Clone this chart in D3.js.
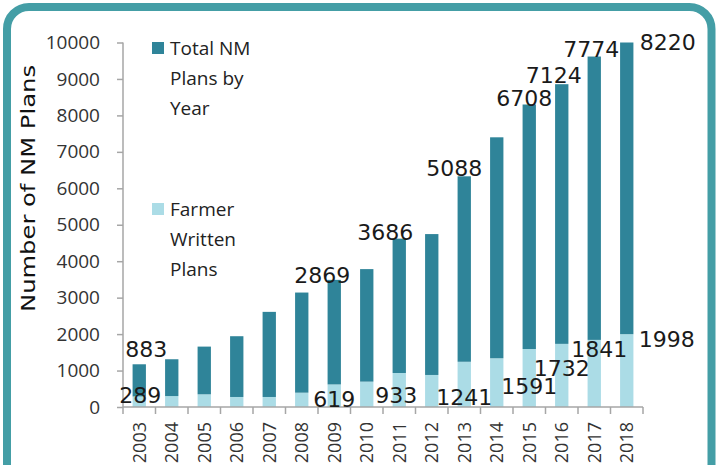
<!DOCTYPE html>
<html lang="en">
<head>
    <meta charset="UTF-8">
    <title>NM Plans by Year</title>
    <script src="https://cdnjs.cloudflare.com/ajax/libs/d3/7.8.5/d3.min.js"></script>
    <style>
        body {
            margin: 0;
            overflow: hidden;
            background: #fff;
        }
    </style>
</head>
<body>
    <script>
        // Data
        const years = ['2003', '2004', '2005', '2006', '2007', '2008', '2009', '2010',
                       '2011', '2012', '2013', '2014', '2015', '2016', '2017', '2018'];
        const farmerPlans = [289, 300, 348, 275, 275, 393, 619, 696, 933, 879, 1241, 1337, 1591, 1732, 1841, 1998];
        const otherPlans = [883, 1010, 1309, 1667, 2335, 2747, 2869, 3087, 3686, 3865, 5088, 6062, 6708, 7124, 7774, 8220];
        const labelledYears = ['2003', '2009', '2011', '2013', '2015', '2016', '2017', '2018'];
        const yTicks = [0, 1000, 2000, 3000, 4000, 5000, 6000, 7000, 8000, 9000, 10000];
        const legendTotal = ['Total NM', 'Plans by', 'Year'];
        const legendFarmer = ['Farmer', 'Written', 'Plans'];

        // hand placed label nudges (dx, dy in px) like the original
        const topNudge = {
            '2003': [7, -7], '2009': [-12, 3], '2011': [-14, 1], '2013': [-10, 0],
            '2015': [-5, 1], '2016': [-8, -1], '2017': [-3, 0], '2018': [41, 7]
        };
        const baseNudge = {
            '2003': [1, -4], '2009': [0, 0], '2011': [-3, -4], '2013': [0, -2],
            '2015': [0, -13], '2016': [0, -31], '2017': [5, -50], '2018': [40, -60]
        };

        const darkColor = '#2f8499';
        const lightColor = '#abdce6';
        const frameColor = '#449ea6';

        const width = 716, height = 465;
        const margin = { left: 123, right: 73, top: 42.5, bottom: 58 };

        const svg = d3.select('body').append('svg')
            .attr('width', width)
            .attr('height', height);

        // rounded frame
        svg.append('rect')
            .attr('x', 7).attr('y', 7)
            .attr('width', 704.5).attr('height', 520)
            .attr('rx', 22)
            .attr('fill', '#fff')
            .attr('stroke', frameColor)
            .attr('stroke-width', 8);

        const x = d3.scaleBand()
            .domain(years)
            .range([margin.left, width - margin.right])
            .paddingInner(0.59)
            .paddingOuter(0.295);

        const y = d3.scaleLinear()
            .domain([0, 10000])
            .range([height - margin.bottom, margin.top])
            .clamp(true);

        const rows = years.map((yr, i) => ({ year: yr, farmer: farmerPlans[i], other: otherPlans[i] }));
        const stacked = d3.stack().keys(['farmer', 'other'])(rows);
        const colors = { farmer: lightColor, other: darkColor };

        svg.append('g')
            .selectAll('g')
            .data(stacked)
            .join('g')
            .attr('fill', d => colors[d.key])
            .selectAll('rect')
            .data(d => d)
            .join('rect')
            .attr('x', d => x(d.data.year))
            .attr('y', d => y(d[1]))
            .attr('width', x.bandwidth())
            .attr('height', d => y(d[0]) - y(d[1]));

        // axes
        const axisColor = '#a6a6a6';
        const yAxis = svg.append('g')
            .attr('transform', `translate(${margin.left},0)`)
            .call(d3.axisLeft(y).tickValues(yTicks).tickSize(6).tickFormat(d3.format('d')));
        yAxis.select('.domain').attr('stroke', axisColor).attr('stroke-width', 1.5)
            .attr('d', `M0,${y(0)}V${y(10000)}`);
        yAxis.selectAll('.tick line').attr('stroke', axisColor).attr('stroke-width', 1.5);
        yAxis.selectAll('.tick text')
            .attr('x', -23)
            .attr('fill', '#333')
            .style('font-family', '"Open Sans", sans-serif')
            .style('font-size', '19px');

        const xAxis = svg.append('g')
            .attr('transform', `translate(0,${y(0)})`);
        xAxis.append('line')
            .attr('x1', margin.left).attr('x2', width - margin.right)
            .attr('stroke', axisColor).attr('stroke-width', 1.5);
        xAxis.selectAll('line.tk')
            .data(d3.range(years.length + 1))
            .join('line')
            .attr('class', 'tk')
            .attr('x1', i => margin.left + i * (width - margin.left - margin.right) / years.length)
            .attr('x2', i => margin.left + i * (width - margin.left - margin.right) / years.length)
            .attr('y1', 0).attr('y2', 7)
            .attr('stroke', axisColor).attr('stroke-width', 1.5);
        xAxis.selectAll('text')
            .data(years)
            .join('text')
            .attr('transform', d => `translate(${x(d) + x.bandwidth() / 2 + 6.5},15) rotate(-90)`)
            .attr('text-anchor', 'end')
            .attr('fill', '#333')
            .style('font-family', '"Open Sans", sans-serif')
            .style('font-size', '18px')
            .text(d => d);

        // y title
        svg.append('text')
            .attr('transform', `translate(35,${(65 + 312) / 2}) rotate(-90)`)
            .attr('text-anchor', 'middle')
            .attr('textLength', 247)
            .attr('lengthAdjust', 'spacingAndGlyphs')
            .attr('fill', '#111')
            .style('font-family', '"DejaVu Sans", sans-serif')
            .style('font-size', '20px')
            .text('Number of NM Plans');

        // data labels
        const labelRows = rows.filter(r => labelledYears.includes(r.year));
        const cx = d => x(d.year) + x.bandwidth() / 2;
        const lbl = svg.append('g')
            .style('font-family', '"DejaVu Sans", sans-serif')
            .style('font-size', '22px')
            .attr('fill', '#1a1a1a')
            .attr('text-anchor', 'middle');
        lbl.selectAll('text.top')
            .data(labelRows)
            .join('text')
            .attr('class', 'top')
            .attr('x', d => cx(d) + topNudge[d.year][0])
            .attr('y', d => y(d.farmer + d.other) + topNudge[d.year][1])
            .text(d => d.other);
        lbl.selectAll('text.base')
            .data(labelRows)
            .join('text')
            .attr('class', 'base')
            .attr('x', d => cx(d) + baseNudge[d.year][0])
            .attr('y', d => y(0) + baseNudge[d.year][1])
            .text(d => d.farmer);

        // legend
        const legend = svg.append('g')
            .style('font-family', '"Open Sans", sans-serif')
            .style('font-size', '19px')
            .attr('fill', '#222');
        const legendItems = [
            { color: darkColor, lines: legendTotal, top: 42 },
            { color: lightColor, lines: legendFarmer, top: 203 }
        ];
        legendItems.forEach(item => {
            legend.append('rect')
                .attr('x', 152).attr('y', item.top)
                .attr('width', 12).attr('height', 12)
                .attr('fill', item.color);
            legend.selectAll(null)
                .data(item.lines)
                .join('text')
                .attr('x', 170)
                .attr('y', (d, i) => item.top + 6 + i * 30)
                .attr('dy', '0.36em')
                .text(d => d);
        });
    </script>
</body>
</html>
